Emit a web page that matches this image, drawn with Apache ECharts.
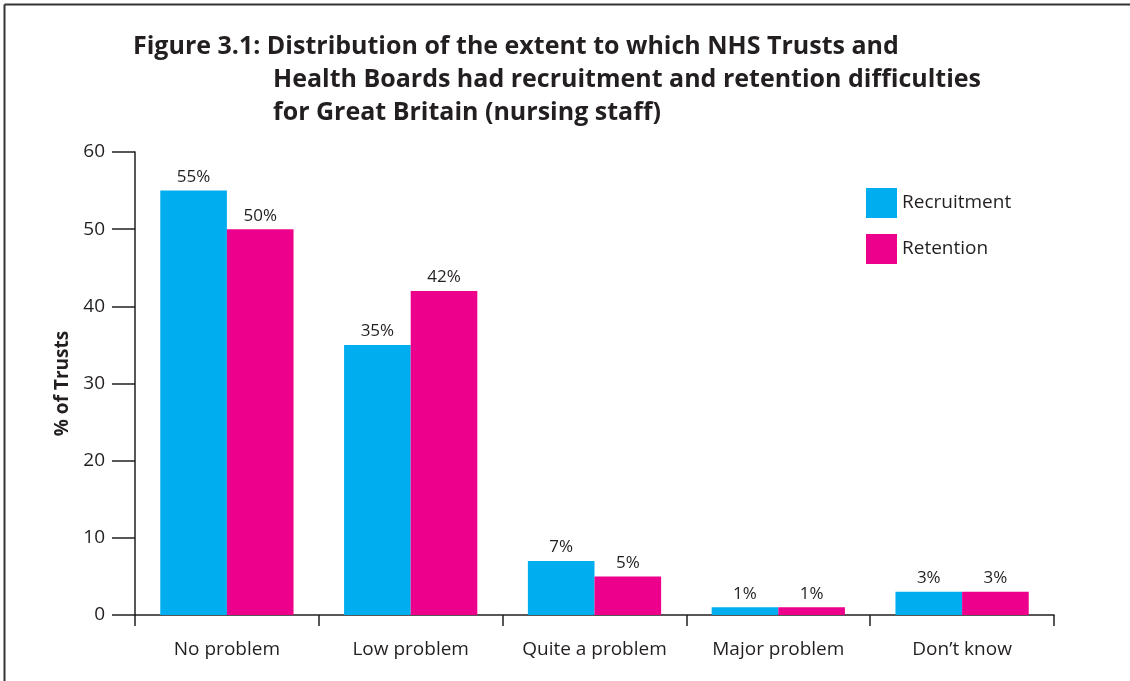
<!DOCTYPE html>
<html><head><meta charset="utf-8">
<script src="https://cdn.jsdelivr.net/npm/echarts@6/dist/echarts.min.js"></script>
<style>html,body{margin:0;padding:0;background:#fff}#c{width:1130px;height:681px}</style>
</head><body><div id="c"></div>
<script>
const categories = ['No problem', 'Low problem', 'Quite a problem', 'Major problem', 'Don\u2019t know'];
const recruitment = [55, 35, 7, 1, 3];
const retention = [50, 42, 5, 1, 3];
const yTicks = [0, 10, 20, 30, 40, 50, 60];
const titleLines = ['Figure 3.1: Distribution of the extent to which NHS Trusts and', 'Health Boards had recruitment and retention difficulties', 'for Great Britain (nursing staff)'];

const txt = '#231f20';
const font = 'Open Sans';
const chart = echarts.init(document.getElementById('c'), null, {renderer: 'canvas'});
const lab = {show: true, position: 'top', formatter: '{c}%', color: txt, fontSize: 17, fontFamily: font, distance: 5};
chart.setOption({
  animation: false,
  textStyle: {fontFamily: font},
  title: [
    {text: titleLines[0], left: 128, top: 29},
    {text: titleLines[1], left: 268, top: 62},
    {text: titleLines[2], left: 268, top: 95}
  ].map(t => Object.assign(t, {textStyle: {fontSize: 25, fontWeight: 'bold', color: txt, fontFamily: font}})),
  legend: {
    orient: 'vertical', left: 866, top: 188, padding: 0, itemWidth: 31, itemHeight: 30, itemGap: 16,
    icon: 'rect',
    textStyle: {fontSize: 19, color: txt, fontFamily: font},
    data: ['Recruitment', 'Retention']
  },
  grid: {left: 135, right: 76, top: 152, bottom: 66},
  xAxis: {
    type: 'category', data: categories,
    axisLine: {lineStyle: {color: txt, width: 1.5}},
    axisTick: {show: true, length: 11, lineStyle: {color: txt, width: 1.5}},
    axisLabel: {interval: 0, fontSize: 19, color: txt, fontFamily: font, margin: 25}
  },
  yAxis: {
    type: 'value', min: yTicks[0], max: yTicks[yTicks.length - 1], interval: 10,
    name: '% of Trusts', nameLocation: 'middle', nameGap: 57,
    nameTextStyle: {fontSize: 19, fontWeight: 'bold', color: txt, fontFamily: font},
    axisLine: {show: true, lineStyle: {color: txt, width: 1.5}},
    axisTick: {show: true, length: 23, lineStyle: {color: txt, width: 1.5}},
    axisLabel: {fontSize: 19, color: txt, fontFamily: font, margin: 30},
    splitLine: {show: false}
  },
  series: [
    {name: 'Recruitment', type: 'bar', data: recruitment, itemStyle: {color: '#00aeef'}, barGap: '0%', barCategoryGap: '27.5%', label: lab},
    {name: 'Retention', type: 'bar', data: retention, itemStyle: {color: '#ec008c'}, label: lab}
  ],
  graphic: [
    {type: 'line', shape: {x1: 4.5, y1: 4.5, x2: 1130, y2: 4.5}, style: {stroke: '#333', lineWidth: 2}},
    {type: 'line', shape: {x1: 4.5, y1: 4.5, x2: 4.5, y2: 681}, style: {stroke: '#333', lineWidth: 2}}
  ]
});
</script></body></html>
